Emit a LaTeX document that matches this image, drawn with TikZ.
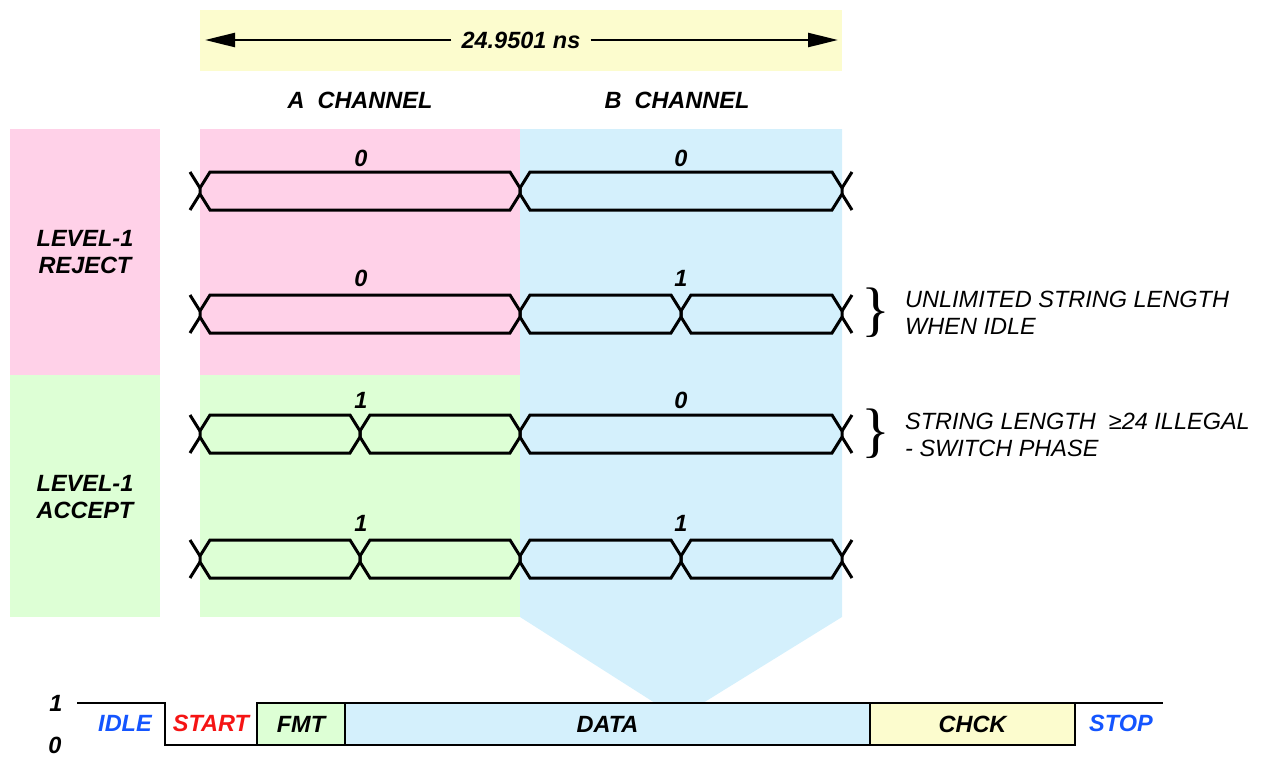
\documentclass[tikz,border=0pt]{standalone}
\usepackage{fontspec}
\setmainfont{Liberation Sans}
\newfontfamily\serifbrace{Liberation Serif}
\usetikzlibrary{arrows.meta}
\definecolor{cpink}{RGB}{255,209,232}
\definecolor{cgreen}{RGB}{221,255,213}
\definecolor{cblue}{RGB}{212,240,252}
\definecolor{cyellow}{RGB}{252,252,206}
\definecolor{cidle}{RGB}{20,85,255}
\definecolor{cstart}{RGB}{245,20,20}
\tikzset{
  bi/.style={font=\bfseries\itshape\fontsize{23.5}{27}\selectfont, inner sep=0pt},
  side/.style={font=\itshape\fontsize{23.5}{27}\selectfont, align=left, anchor=west, inner sep=0pt},
  wave/.style={line width=3pt, line join=miter},
  sig/.style={line width=2.4pt},
  fieldbox/.style={draw, line width=2.6pt, outer sep=0pt, minimum height=42pt, inner sep=0pt, font=\bfseries\itshape\fontsize{23.5}{27}\selectfont},
  dimarrow/.style={line width=2.4pt, -{Triangle[length=30pt,width=14pt]}},
  bracechar/.style={font=\serifbrace\fontsize{60}{60}\selectfont, inner sep=0pt}
}
\newcommand{\wcell}[3]{%
  \draw[wave] (#1,#3+3) -- (#1+10,#3+19) -- (#2-10,#3+19) -- (#2,#3+3) -- (#2,#3-3) -- (#2-10,#3-19) -- (#1+10,#3-19) -- (#1,#3-3) -- cycle;}
\newcommand{\wends}[1]{%
  \draw[wave] (190,#1-19) -- (200,#1-3) (190,#1+19) -- (200,#1+3);
  \draw[wave] (852,#1-19) -- (842,#1-3) (852,#1+19) -- (842,#1+3);}
\begin{document}
\begin{tikzpicture}[x=1pt,y=-1pt]
\useasboundingbox (0,0) rectangle (1267,756);
% backgrounds
\fill[cyellow] (200,10) rectangle (842,71);
\fill[cpink] (10,129) rectangle (160,375);
\fill[cgreen] (10,375) rectangle (160,617);
\fill[cpink] (200,129) rectangle (520,375);
\fill[cgreen] (200,375) rectangle (520,617);
\fill[cblue] (520,129) -- (842,129) -- (842,617) -- (703,703) -- (655,703) -- (520,617) -- cycle;
% dimension arrow
\node[bi, inner xsep=10pt] (dim) at (521,40) {24.9501 ns};
\coordinate (dimL) at (205,40);
\coordinate (dimR) at (838,40);
\draw[dimarrow] (dim.west) -- (dimL);
\draw[dimarrow] (dim.east) -- (dimR);
% channel titles
\node[bi] (achan) at (360,100) {A\ \ CHANNEL};
\node[bi] (bchan) at (677,100) {B\ \ CHANNEL};
% level labels
\node[bi, align=center] (rej) at (85,252) {LEVEL-1\\REJECT};
\node[bi, align=center] (acc) at (85,497) {LEVEL-1\\ACCEPT};
% row 1
\wcell{200}{520}{191}\wcell{520}{842}{191}\wends{191}
\node[bi] (r1a) at (361,158) {0};
\node[bi] (r1b) at (681,158) {0};
% row 2
\wcell{200}{520}{314}\wcell{520}{681}{314}\wcell{681}{842}{314}\wends{314}
\node[bi] (r2a) at (361,278) {0};
\node[bi] (r2b) at (681,278) {1};
% row 3
\wcell{200}{360}{434}\wcell{360}{520}{434}\wcell{520}{842}{434}\wends{434}
\node[bi] (r3a) at (361,400) {1};
\node[bi] (r3b) at (681,400) {0};
% row 4
\wcell{200}{360}{559}\wcell{360}{520}{559}\wcell{520}{681}{559}\wcell{681}{842}{559}\wends{559}
\node[bi] (r4a) at (361,523) {1};
\node[bi] (r4b) at (681,523) {1};
% braces and notes
\node[bracechar] (br1) at (876,313) {\}};
\node[bracechar] (br2) at (876,434) {\}};
\node[side] (note1) at (905,313) {UNLIMITED STRING LENGTH\\WHEN IDLE};
\node[side] (note2) at (905,435) {STRING LENGTH\ \ ≥24 ILLEGAL\\- SWITCH PHASE};
% bottom frame
\node[bi] (one) at (56,703) {1};
\node[bi] (zero) at (55,745) {0};
\node[fieldbox, fill=cgreen, minimum width=88pt] (fmt) at (301,724) {FMT};
\node[fieldbox, fill=cblue, minimum width=525pt] (data) at (607.5,724) {DATA};
\node[fieldbox, fill=cyellow, minimum width=205pt] (chck) at (972.5,724) {CHCK};
\coordinate (idleS) at (77,703);
\coordinate (idleE) at (165,703);
\coordinate (startE) at (165,745);
\coordinate (stopE) at (1163,703);
\draw[sig] (idleS) -- (idleE) -- (startE) -- (fmt.south west);
\draw[sig] (chck.north east) -- (stopE);
\node[bi, text=cidle] (idle) at (125,723) {IDLE};
\node[bi, text=cstart] (start) at (211,723) {START};
\node[bi, text=cidle] (stop) at (1121,723) {STOP};
\end{tikzpicture}
\end{document}
